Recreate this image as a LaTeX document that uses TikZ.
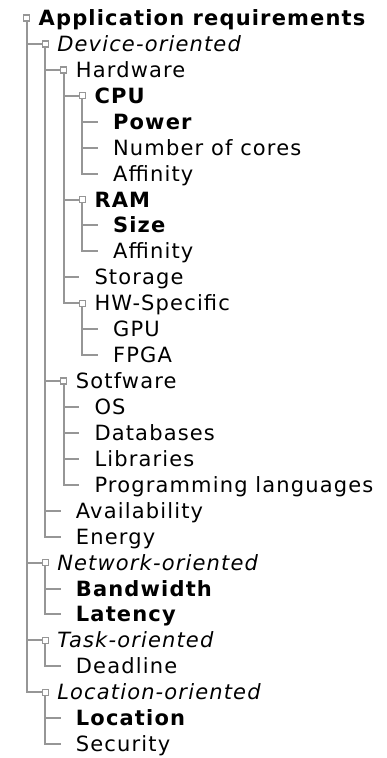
\documentclass[tikz,border=0pt]{standalone}
\usepackage{fontspec}
\setmainfont{DejaVu Sans}[LetterSpace=5.5]
\definecolor{treegray}{RGB}{150,150,150}

\begin{document}
\begin{tikzpicture}[x=1pt,y=-1pt,
    knot/.style={draw=treegray,fill=white,line width=1.2pt,minimum size=6pt,inner sep=0pt},
    leaf/.style={minimum size=6pt,inner sep=0pt},
    item/.style={anchor=base west,inner sep=0pt,yshift=-7.5pt,font=\fontsize{21}{25}\selectfont},
    branch/.style={treegray,line width=2pt}]
        \useasboundingbox (0,0) rectangle (386,758);
        % boxes and leaf ends
        \node[knot] (app) at (26.5,18) {};
        \node[knot] (dev) at (45.1,43.9) {};
        \node[knot] (hw) at (63.7,69.9) {};
        \node[knot] (cpu) at (82.3,95.8) {};
        \node[leaf] (pow) at (100.9,121.7) {};
        \node[leaf] (cores) at (100.9,147.7) {};
        \node[leaf] (caff) at (100.9,173.6) {};
        \node[knot] (ram) at (82.3,199.5) {};
        \node[leaf] (size) at (100.9,225.4) {};
        \node[leaf] (raff) at (100.9,251.4) {};
        \node[leaf] (sto) at (82.3,277.3) {};
        \node[knot] (hws) at (82.3,303.2) {};
        \node[leaf] (gpu) at (100.9,329.2) {};
        \node[leaf] (fpga) at (100.9,355.1) {};
        \node[knot] (sw) at (63.7,381) {};
        \node[leaf] (os) at (82.3,407) {};
        \node[leaf] (db) at (82.3,432.9) {};
        \node[leaf] (lib) at (82.3,458.8) {};
        \node[leaf] (lang) at (82.3,484.7) {};
        \node[leaf] (avail) at (63.7,510.7) {};
        \node[leaf] (energy) at (63.7,536.6) {};
        \node[knot] (net) at (45.1,562.5) {};
        \node[leaf] (bw) at (63.7,588.5) {};
        \node[leaf] (lat) at (63.7,614.4) {};
        \node[knot] (task) at (45.1,640.3) {};
        \node[leaf] (dl) at (63.7,666.3) {};
        \node[knot] (loc) at (45.1,692.2) {};
        \node[leaf] (locn) at (63.7,718.1) {};
        \node[leaf] (sec) at (63.7,744) {};
        % labels
        \node[item] (appT) at (38.5,18) {\textbf{Application requirements}};
        \node[item] (devT) at (57.1,43.9) {\textit{Device-oriented}};
        \node[item] (hwT) at (75.7,69.9) {Hardware};
        \node[item] (cpuT) at (94.3,95.8) {\textbf{CPU}};
        \node[item] (powT) at (112.9,121.7) {\textbf{Power}};
        \node[item] (coresT) at (112.9,147.7) {Number of cores};
        \node[item] (caffT) at (112.9,173.6) {Affinity};
        \node[item] (ramT) at (94.3,199.5) {\textbf{RAM}};
        \node[item] (sizeT) at (112.9,225.4) {\textbf{Size}};
        \node[item] (raffT) at (112.9,251.4) {Affinity};
        \node[item] (stoT) at (94.3,277.3) {Storage};
        \node[item] (hwsT) at (94.3,303.2) {HW-Specific};
        \node[item] (gpuT) at (112.9,329.2) {GPU};
        \node[item] (fpgaT) at (112.9,355.1) {FPGA};
        \node[item] (swT) at (75.7,381) {Sotfware};
        \node[item] (osT) at (94.3,407) {OS};
        \node[item] (dbT) at (94.3,432.9) {Databases};
        \node[item] (libT) at (94.3,458.8) {Libraries};
        \node[item] (langT) at (94.3,484.7) {Programming languages};
        \node[item] (availT) at (75.7,510.7) {Availability};
        \node[item] (energyT) at (75.7,536.6) {Energy};
        \node[item] (netT) at (57.1,562.5) {\textit{Network-oriented}};
        \node[item] (bwT) at (75.7,588.5) {\textbf{Bandwidth}};
        \node[item] (latT) at (75.7,614.4) {\textbf{Latency}};
        \node[item] (taskT) at (57.1,640.3) {\textit{Task-oriented}};
        \node[item] (dlT) at (75.7,666.3) {Deadline};
        \node[item] (locT) at (57.1,692.2) {\textit{Location-oriented}};
        \node[item] (locnT) at (75.7,718.1) {\textbf{Location}};
        \node[item] (secT) at (75.7,744) {Security};
        % branches
        \draw[branch] (app) |- (dev);
        \draw[branch] (app) |- (net);
        \draw[branch] (app) |- (task);
        \draw[branch] (app) |- (loc);
        \draw[branch] (dev) |- (hw);
        \draw[branch] (dev) |- (sw);
        \draw[branch] (dev) |- (avail);
        \draw[branch] (dev) |- (energy);
        \draw[branch] (hw) |- (cpu);
        \draw[branch] (hw) |- (ram);
        \draw[branch] (hw) |- (sto);
        \draw[branch] (hw) |- (hws);
        \draw[branch] (cpu) |- (pow);
        \draw[branch] (cpu) |- (cores);
        \draw[branch] (cpu) |- (caff);
        \draw[branch] (ram) |- (size);
        \draw[branch] (ram) |- (raff);
        \draw[branch] (hws) |- (gpu);
        \draw[branch] (hws) |- (fpga);
        \draw[branch] (sw) |- (os);
        \draw[branch] (sw) |- (db);
        \draw[branch] (sw) |- (lib);
        \draw[branch] (sw) |- (lang);
        \draw[branch] (net) |- (bw);
        \draw[branch] (net) |- (lat);
        \draw[branch] (task) |- (dl);
        \draw[branch] (loc) |- (locn);
        \draw[branch] (loc) |- (sec);
\end{tikzpicture}
\end{document}
